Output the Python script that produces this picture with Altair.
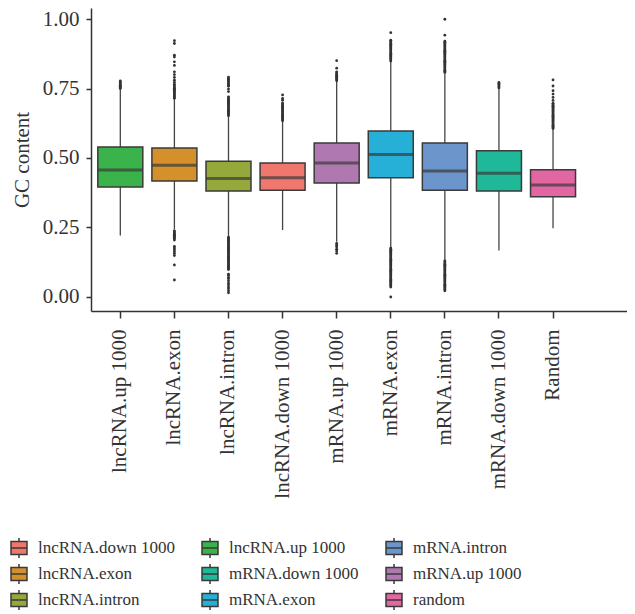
import altair as alt
import pandas as pd

# ---- data ----
categories = ["lncRNA.up 1000", "lncRNA.exon", "lncRNA.intron", "lncRNA.down 1000",
              "mRNA.up 1000", "mRNA.exon", "mRNA.intron", "mRNA.down 1000", "Random"]
groups = ["lncRNA.up 1000", "lncRNA.exon", "lncRNA.intron", "lncRNA.down 1000",
          "mRNA.up 1000", "mRNA.exon", "mRNA.intron", "mRNA.down 1000", "random"]
colors = ["#39b34a", "#d4902a", "#95a83b", "#ef776e",
          "#b078b0", "#26b0d7", "#6b95cb", "#1fb99a", "#e266a2"]

lower_whisker = [0.221, 0.243, 0.219, 0.241, 0.199, 0.179, 0.133, 0.167, 0.247]
q1 = [0.396, 0.417, 0.381, 0.384, 0.410, 0.429, 0.384, 0.381, 0.361]
median = [0.457, 0.474, 0.426, 0.429, 0.482, 0.513, 0.453, 0.445, 0.403]
q3 = [0.540, 0.536, 0.488, 0.482, 0.554, 0.597, 0.554, 0.526, 0.458]
upper_whisker = [0.747, 0.712, 0.648, 0.631, 0.775, 0.846, 0.805, 0.748, 0.603]

out_lnc_up = [0.750, 0.754, 0.758, 0.762, 0.766, 0.770, 0.774, 0.777]
out_lnc_exon = [0.715, 0.719, 0.723, 0.727, 0.731, 0.735, 0.739, 0.743, 0.747, 0.751,
                0.755, 0.760, 0.765, 0.772, 0.780, 0.790, 0.800, 0.810, 0.833, 0.846,
                0.863, 0.870, 0.912, 0.922,
                0.238, 0.234, 0.230, 0.226, 0.222, 0.218, 0.214, 0.210, 0.205, 0.182,
                0.176, 0.170, 0.163, 0.156, 0.149, 0.115, 0.061]
out_lnc_intron = [0.652, 0.656, 0.660, 0.664, 0.668, 0.672, 0.676, 0.680, 0.684, 0.688,
                  0.692, 0.696, 0.700, 0.704, 0.708, 0.712, 0.716, 0.720, 0.739, 0.748,
                  0.758, 0.762, 0.766, 0.770, 0.774, 0.778, 0.782, 0.786, 0.791,
                  0.215, 0.211, 0.207, 0.203, 0.199, 0.195, 0.191, 0.187, 0.183, 0.179,
                  0.175, 0.171, 0.167, 0.163, 0.159, 0.155, 0.151, 0.147, 0.143, 0.139,
                  0.135, 0.131, 0.127, 0.123, 0.119, 0.115, 0.111, 0.107, 0.103, 0.099,
                  0.082, 0.078, 0.070, 0.066, 0.058, 0.050, 0.044, 0.036, 0.030, 0.022, 0.015]
out_lnc_down = [0.634, 0.638, 0.642, 0.646, 0.650, 0.654, 0.658, 0.662, 0.666, 0.670,
                0.674, 0.678, 0.682, 0.686, 0.690, 0.694, 0.698, 0.708, 0.714, 0.727]
out_m_up = [0.778, 0.782, 0.786, 0.790, 0.794, 0.798, 0.802, 0.806, 0.810, 0.823, 0.850,
            0.193, 0.186, 0.180, 0.172, 0.165, 0.157]
out_m_exon = [0.849, 0.853, 0.857, 0.861, 0.865, 0.869, 0.873, 0.877, 0.881, 0.885,
              0.889, 0.893, 0.897, 0.901, 0.905, 0.909, 0.913, 0.917, 0.921, 0.924, 0.951,
              0.176, 0.172, 0.168, 0.164, 0.160, 0.156, 0.152, 0.148, 0.144, 0.140,
              0.136, 0.132, 0.128, 0.124, 0.120, 0.116, 0.112, 0.108, 0.104, 0.100,
              0.096, 0.092, 0.088, 0.084, 0.080, 0.076, 0.072, 0.068, 0.064, 0.060,
              0.056, 0.052, 0.048, 0.044, 0.040, 0.036, 0.000]
out_m_intron = [0.808, 0.812, 0.816, 0.820, 0.824, 0.828, 0.832, 0.836, 0.840, 0.844,
                0.848, 0.852, 0.856, 0.860, 0.864, 0.868, 0.872, 0.876, 0.880, 0.884,
                0.888, 0.892, 0.896, 0.900, 0.904, 0.908, 0.912, 0.916, 0.920, 0.942, 0.999,
                0.130, 0.126, 0.122, 0.118, 0.114, 0.110, 0.106, 0.102, 0.098, 0.094,
                0.090, 0.086, 0.082, 0.078, 0.074, 0.070, 0.066, 0.062, 0.058, 0.054,
                0.050, 0.046, 0.042, 0.038, 0.034, 0.030, 0.026, 0.022]
out_m_down = [0.752, 0.756, 0.760, 0.764, 0.768, 0.772]
out_random = [0.606, 0.610, 0.614, 0.618, 0.622, 0.626, 0.630, 0.634, 0.638, 0.642,
              0.646, 0.650, 0.654, 0.658, 0.662, 0.666, 0.670, 0.674, 0.678, 0.682,
              0.686, 0.690, 0.694, 0.697, 0.707, 0.718, 0.730, 0.742, 0.759, 0.781]

outlier_lists = [out_lnc_up, out_lnc_exon, out_lnc_intron, out_lnc_down,
                 out_m_up, out_m_exon, out_m_intron, out_m_down, out_random]

# legend order: alphabetical, laid out column by column (3 rows)
legend_order = sorted(groups)
color_of = dict(zip(groups, colors))
legend_colors = [color_of[g] for g in legend_order]

# ---- tables ----
box_df = pd.DataFrame({
    "category": categories, "group": groups,
    "lower": lower_whisker, "q1": q1, "median": median, "q3": q3, "upper": upper_whisker,
})
out_rows = []
for cat, vals in zip(categories, outlier_lists):
    for v in vals:
        out_rows.append({"category": cat, "value": v})
out_df = pd.DataFrame(out_rows)

FONT = "Liberation Serif"
INK = "#333333"
BOX_W = 45

x_enc = alt.X("category:N", sort=categories,
              scale=alt.Scale(paddingInner=0, paddingOuter=0.4546, align=0.046),
              axis=alt.Axis(title=None, labelAngle=270, labelPadding=11, tickSize=7))
y_scale = alt.Scale(domain=[-0.0504, 1.0396], nice=False, zero=False)

sym_path = "M-0.8,-0.65H0.8V0.65H-0.8Z M-0.8,0H0.8 M0,-0.65V-1 M0,0.65V1"

whiskers = alt.Chart(box_df).mark_rule(color="#444444", strokeWidth=1.3).encode(
    x=x_enc,
    y=alt.Y("lower:Q", scale=y_scale,
            axis=alt.Axis(title="GC content", values=[0, 0.25, 0.5, 0.75, 1.0],
                          format=".2f", titlePadding=10, labelPadding=7, tickSize=5)),
    y2="upper:Q",
)

boxes = alt.Chart(box_df).mark_bar(size=BOX_W, stroke="#3a3a3a", strokeWidth=1.5).encode(
    x=x_enc,
    y=alt.Y("q1:Q", scale=y_scale),
    y2="q3:Q",
    color=alt.Color("group:N",
                    scale=alt.Scale(domain=legend_order, range=legend_colors),
                    legend=alt.Legend(
                        title=None, orient="none", legendX=-83, legendY=529,
                        columns=3, columnPadding=24, rowPadding=0,
                        symbolType=sym_path, symbolSize=400,
                        symbolStrokeColor="#3a3a3a", symbolStrokeWidth=1.5,
                        symbolOpacity=1, labelFont=FONT, labelFontSize=17,
                        labelColor=INK, labelOffset=8, padding=0,
                        labelLimit=300)),
)

medians = alt.Chart(box_df).mark_tick(size=BOX_W, thickness=3, color="#3a3a3a").encode(
    x=x_enc,
    y=alt.Y("median:Q", scale=y_scale),
)

points = alt.Chart(out_df).mark_circle(size=8, color=INK, opacity=1).encode(
    x=x_enc,
    y=alt.Y("value:Q", scale=y_scale),
)

chart = alt.layer(whiskers, boxes, medians, points).properties(
    width=536, height=303,
    padding={"left": 0, "top": 0, "right": 0, "bottom": 0},
).configure_view(stroke=None).configure_axis(
    grid=False, domainColor=INK, domainWidth=1.5, tickColor=INK, tickWidth=1.5,
    labelFont=FONT, labelFontSize=21, labelColor=INK,
    titleFont=FONT, titleFontSize=21, titleFontWeight="normal", titleColor=INK,
)

chart.save("out.html", embed_options={"renderer": "svg", "actions": False})
